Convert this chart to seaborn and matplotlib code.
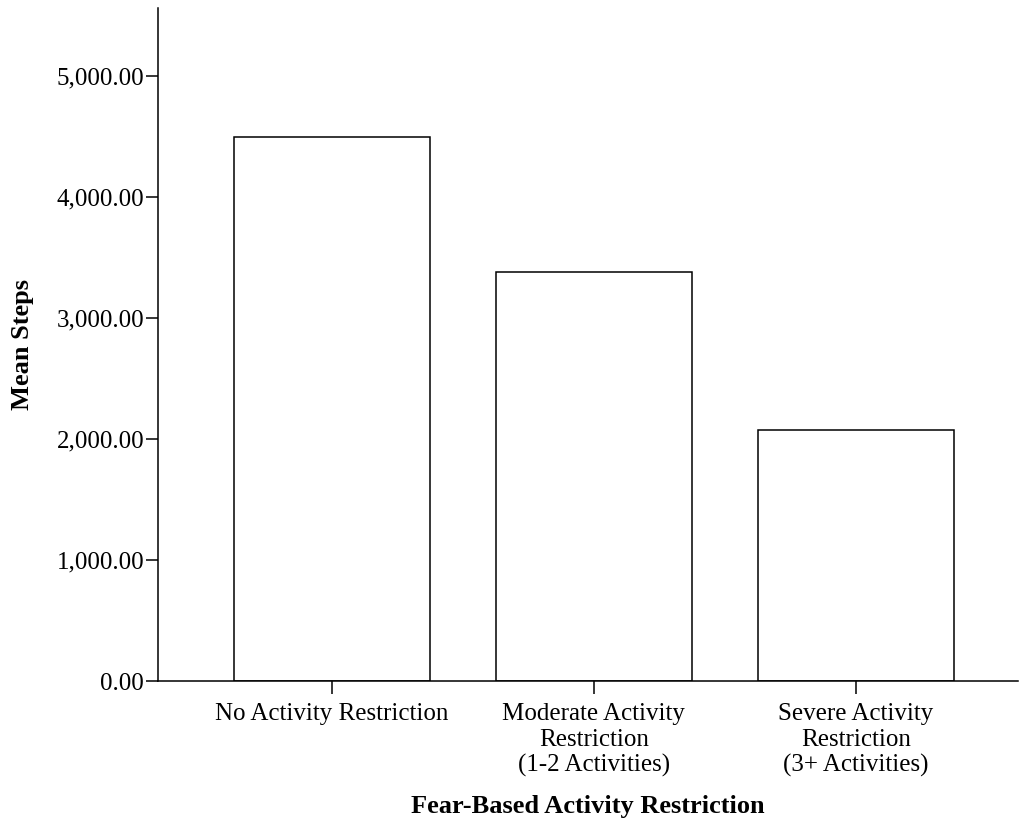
import numpy as np
import pandas as pd
import seaborn as sns
import matplotlib.pyplot as plt
from matplotlib.ticker import FuncFormatter

categories = ['No Activity Restriction',
              'Moderate Activity\nRestriction\n(1-2 Activities)',
              'Severe Activity\nRestriction\n(3+ Activities)']
mean_steps = [4495, 3378, 2073]

df = pd.DataFrame({'group': categories, 'steps': mean_steps})

sns.set_style('white')
plt.rcParams['font.family'] = ['Liberation Serif', 'DejaVu Serif']
plt.rcParams['text.color'] = 'black'
plt.rcParams['axes.labelcolor'] = 'black'
plt.rcParams['xtick.color'] = 'black'
plt.rcParams['ytick.color'] = 'black'

fig = plt.figure(figsize=(10.21, 8.25), dpi=100)
ax = fig.add_axes([158 / 1021, 144 / 825, 860 / 1021, 673 / 825])

sns.barplot(data=df, x='group', y='steps', color='white', saturation=1,
            edgecolor='black', linewidth=1.1, width=0.75, errorbar=None, ax=ax)

ax.set_ylim(0, 5560)
ax.set_xlim(-0.665, 2.62)
ax.set_yticks([0, 1000, 2000, 3000, 4000, 5000])
ax.yaxis.set_major_formatter(FuncFormatter(lambda v, p: f'{v:,.2f}'))

for s in ['top', 'right']:
    ax.spines[s].set_visible(False)
for s in ['left', 'bottom']:
    ax.spines[s].set_linewidth(1.1)
    ax.spines[s].set_color('black')

ax.tick_params(axis='both', which='major', length=9, width=1.1, color='black',
               labelcolor='black', labelsize=18, direction='out', left=True, bottom=True)
ax.tick_params(axis='x', pad=7)
ax.tick_params(axis='y', pad=1)
for t in ax.get_xticklabels():
    t.set_linespacing(1.2)

ax.set_xlabel('Fear-Based Activity Restriction', fontsize=19, fontweight='bold',
              labelpad=13, color='black')
ax.set_ylabel('Mean Steps', fontsize=19, fontweight='bold', labelpad=16, color='black')

fig.savefig('out.png', dpi=100)
